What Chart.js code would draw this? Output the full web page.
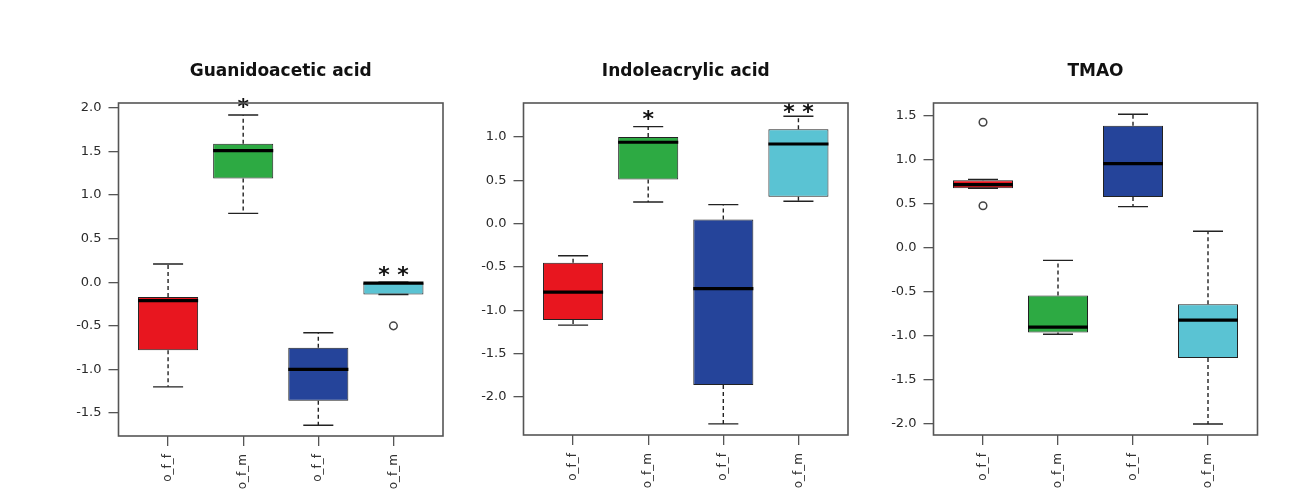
<!DOCTYPE html>
<html><head><meta charset="utf-8">
<script src="https://cdn.jsdelivr.net/npm/chart.js@4.4.0/dist/chart.umd.min.js"></script>
<style>
html,body{margin:0;padding:0;background:#fff;overflow:hidden;width:1300px;height:490px;position:relative}
canvas{position:absolute;top:0}
</style></head><body>
<canvas id="c1" width="460" height="520" style="left:0;width:460px;height:520px"></canvas>
<canvas id="c2" width="420" height="520" style="left:460px;width:420px;height:520px"></canvas>
<canvas id="c3" width="420" height="520" style="left:880px;width:420px;height:520px"></canvas>
<script>
// ---- data ----
const categories = ['o_f_f', 'o_f_m', 'o_f_f', 'o_f_m'];
const groupPositions = [1, 2, 3, 4];

const guanMin = [-1.20, 0.79, -1.64, -0.14];
const guanQ1  = [-0.78, 1.19, -1.36, -0.14];
const guanMed = [-0.21, 1.51, -1.00, -0.01];
const guanQ3  = [-0.17, 1.59, -0.75, 0.00];
const guanMax = [0.21, 1.92, -0.58, 0.00];
const guanOut = [[], [], [], [-0.50]];
const guanSig = ['', '*', '', '**'];
const guanSigY = [null, 2.06, null, 0.13];
const guanTicks = [-1.5, -1.0, -0.5, 0.0, 0.5, 1.0, 1.5, 2.0];

const indoMin = [-1.17, 0.25, -2.31, 0.26];
const indoQ1  = [-1.11, 0.51, -1.86, 0.31];
const indoMed = [-0.79, 0.94, -0.75, 0.92];
const indoQ3  = [-0.45, 1.00, 0.05, 1.09];
const indoMax = [-0.37, 1.12, 0.22, 1.24];
const indoOut = [[], [], [], []];
const indoSig = ['', '*', '', '**'];
const indoSigY = [null, 1.25, null, 1.33];
const indoTicks = [-2.0, -1.5, -1.0, -0.5, 0.0, 0.5, 1.0];

const tmaoMin = [0.68, -0.98, 0.47, -2.00];
const tmaoQ1  = [0.68, -0.96, 0.58, -1.25];
const tmaoMed = [0.72, -0.90, 0.96, -0.82];
const tmaoQ3  = [0.77, -0.54, 1.39, -0.64];
const tmaoMax = [0.78, -0.14, 1.52, 0.19];
const tmaoOut = [[1.43, 0.48], [], [], []];
const tmaoSig = ['', '', '', ''];
const tmaoSigY = [null, null, null, null];
const tmaoTicks = [-2.0, -1.5, -1.0, -0.5, 0.0, 0.5, 1.0, 1.5];

const boxColors = ['#E8161F', '#2DAA43', '#25449A', '#5AC3D3'];

// ---- plugin for whiskers, medians, outliers, significance marks, frame ----
const boxExtras = {
  id: 'boxExtras',
  afterDatasetsDraw(chart, args, opts) {
    const ctx = chart.ctx, y = chart.scales.y, a = chart.chartArea;
    const meta = chart.getDatasetMeta(0);
    ctx.save();
    meta.data.forEach((el, i) => {
      const cx = el.x, w = el.width;
      const pMin = y.getPixelForValue(opts.min[i]);
      const pQ1 = y.getPixelForValue(opts.q1[i]);
      const pQ3 = y.getPixelForValue(opts.q3[i]);
      const pMax = y.getPixelForValue(opts.max[i]);
      const pMed = y.getPixelForValue(opts.med[i]);
      ctx.strokeStyle = '#222';
      ctx.lineWidth = 1.4;
      ctx.setLineDash([4, 3]);
      ctx.beginPath();
      if (pMax < pQ3 - 0.5) { ctx.moveTo(cx, pQ3); ctx.lineTo(cx, pMax); }
      if (pMin > pQ1 + 0.5) { ctx.moveTo(cx, pQ1); ctx.lineTo(cx, pMin); }
      ctx.stroke();
      ctx.setLineDash([]);
      ctx.beginPath();
      ctx.moveTo(cx - w / 4, pMax); ctx.lineTo(cx + w / 4, pMax);
      ctx.moveTo(cx - w / 4, pMin); ctx.lineTo(cx + w / 4, pMin);
      ctx.stroke();
      // median
      ctx.strokeStyle = '#000';
      ctx.lineWidth = 3.2;
      ctx.beginPath();
      ctx.moveTo(cx - w / 2, pMed); ctx.lineTo(cx + w / 2, pMed);
      ctx.stroke();
      // outliers
      ctx.strokeStyle = '#444';
      ctx.lineWidth = 1.5;
      (opts.out[i] || []).forEach(v => {
        ctx.beginPath();
        ctx.arc(cx, y.getPixelForValue(v), 3.8, 0, Math.PI * 2);
        ctx.stroke();
      });
      // significance
      const s = opts.sig[i];
      if (s) {
        ctx.fillStyle = '#111';
        ctx.font = 'bold 22px "DejaVu Sans"';
        ctx.textAlign = 'center';
        ctx.textBaseline = 'alphabetic';
        const m = ctx.measureText('*');
        const yc = y.getPixelForValue(opts.sigY[i]);
        const base = yc + (m.actualBoundingBoxAscent - m.actualBoundingBoxDescent) / 2;
        const n = s.length, gap = 19;
        for (let k = 0; k < n; k++) {
          ctx.fillText('*', cx + (k - (n - 1) / 2) * gap, base);
        }
      }
    });
    // frame
    ctx.strokeStyle = '#555';
    ctx.lineWidth = 1.6;
    ctx.strokeRect(a.left, a.top, a.right - a.left, a.bottom - a.top);
    ctx.restore();
  }
};

function makePanel(id, title, st, yMin, yMax, yTicks, geo) {
  const data = groupPositions.map((p, i) => ({ x: p, y: [st.q1[i], st.q3[i]] }));
  return new Chart(document.getElementById(id), {
    type: 'bar',
    data: {
      datasets: [{
        data: data,
        backgroundColor: boxColors,
        borderColor: '#222',
        borderWidth: 1,
        borderSkipped: false,
        barPercentage: 0.8,
        categoryPercentage: 1.0
      }]
    },
    options: {
      responsive: false,
      animation: false,
      devicePixelRatio: 1,
      layout: { padding: { left: 0, right: geo.right, top: 61, bottom: 0 } },
      plugins: {
        legend: { display: false },
        tooltip: { enabled: false },
        title: {
          display: true, text: title, fullSize: false, color: '#111',
          font: { family: '"DejaVu Sans"', size: 17, weight: 'bold' },
          padding: { top: 0, bottom: geo.titleGap }
        },
        boxExtras: st
      },
      scales: {
        x: {
          type: 'linear', min: 0.34, max: 4.66, offset: false,
          afterBuildTicks: s => { s.ticks = groupPositions.map(v => ({ value: v })); },
          afterFit: s => { s.height = 520 - geo.bottom; },
          grid: { offset: false, drawOnChartArea: false, drawTicks: true, tickLength: 10, color: '#555', lineWidth: 1.3 },
          border: { display: false },
          ticks: {
            minRotation: 90, maxRotation: 90, padding: 8, color: '#333',
            font: { family: '"DejaVu Sans"', size: 12 },
            callback: v => categories[groupPositions.indexOf(v)]
          }
        },
        y: {
          type: 'linear', min: yMin, max: yMax,
          afterBuildTicks: s => { s.ticks = yTicks.map(v => ({ value: v })); },
          afterFit: s => { s.width = geo.left; },
          grid: { drawOnChartArea: false, drawTicks: true, tickLength: 10, color: '#555', lineWidth: 1.3 },
          border: { display: false },
          ticks: {
            padding: 7, color: '#2a2a2a',
            font: { family: '"DejaVu Sans"', size: 13 },
            callback: v => v.toFixed(1)
          }
        }
      }
    },
    plugins: [boxExtras]
  });
}

makePanel('c1', 'Guanidoacetic acid',
  { min: guanMin, q1: guanQ1, med: guanMed, q3: guanQ3, max: guanMax, out: guanOut, sig: guanSig, sigY: guanSigY },
  -1.764, 2.057, guanTicks, { left: 118.5, right: 17, bottom: 436, titleGap: 21.6 });
makePanel('c2', 'Indoleacrylic acid',
  { min: indoMin, q1: indoQ1, med: indoMed, q3: indoQ3, max: indoMax, out: indoOut, sig: indoSig, sigY: indoSigY },
  -2.438, 1.393, indoTicks, { left: 63.5, right: 32, bottom: 435, titleGap: 21.6 });
makePanel('c3', 'TMAO',
  { min: tmaoMin, q1: tmaoQ1, med: tmaoMed, q3: tmaoQ3, max: tmaoMax, out: tmaoOut, sig: tmaoSig, sigY: tmaoSigY },
  -2.125, 1.648, tmaoTicks, { left: 53.5, right: 42.5, bottom: 435, titleGap: 21.6 });
</script>
</body></html>
